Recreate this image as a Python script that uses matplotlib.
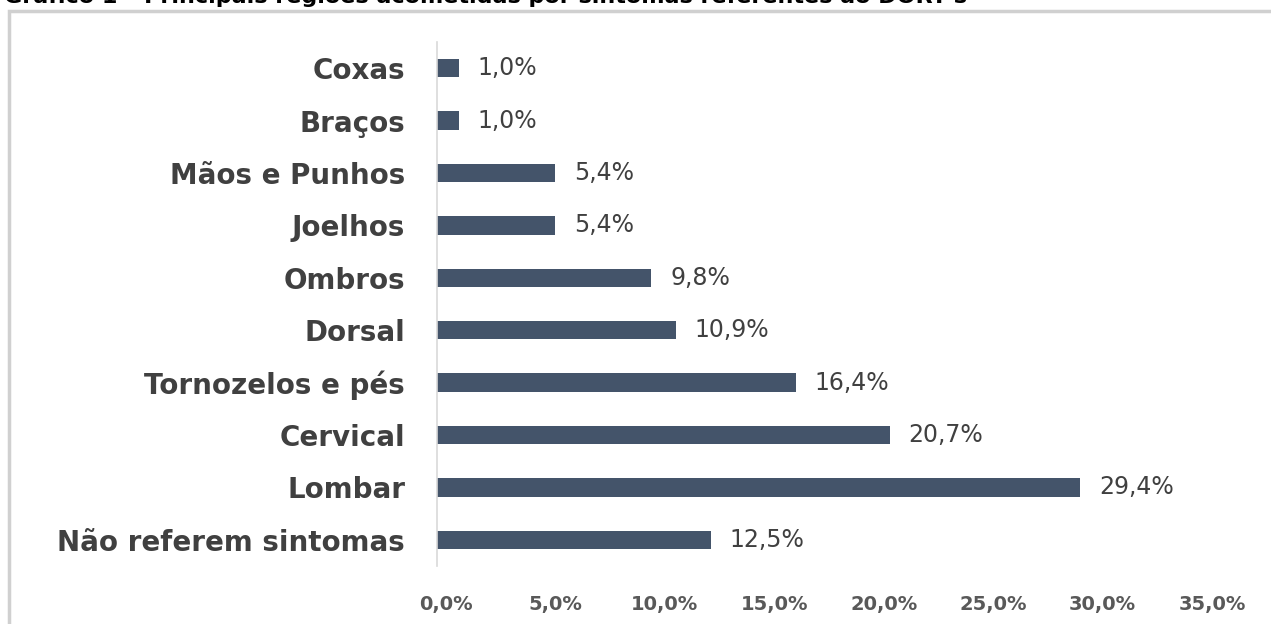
import matplotlib
matplotlib.use("Agg")
import matplotlib.pyplot as plt
from matplotlib.patches import Rectangle
from matplotlib.transforms import ScaledTranslation

categories = ["Não referem sintomas", "Lombar", "Cervical", "Tornozelos e pés", "Dorsal",
              "Ombros", "Joelhos", "Mãos e Punhos", "Braços", "Coxas"]
values = [12.5, 29.4, 20.7, 16.4, 10.9, 9.8, 5.4, 5.4, 1.0, 1.0]
xticks = [0, 5, 10, 15, 20, 25, 30, 35]
title = "Gráfico 1 – Principais regiões acometidas por sintomas referentes ao DORT's"

fig = plt.figure(figsize=(12.71, 6.24), dpi=100)
W, H = 1271, 624

# outer frame (chart area border)
fig.patches.append(Rectangle((9 / W, -0.05), 1.2, (H - 11) / H + 0.05, transform=fig.transFigure,
                             fill=False, edgecolor="#d0d0d0", linewidth=2.5))

# title, clipped at the top edge as in the reference
fig.text(4 / W, 1 + 4 / H, title, fontsize=16, fontweight="bold", family="DejaVu Sans",
         va="center", ha="left", color="black")

ax = fig.add_axes([437 / W, 1 - 566 / H, (1203 - 437) / W, (566 - 42) / H])
y = list(range(len(categories)))
ax.barh(y, values, height=0.35, color="#44546A")
ax.set_xlim(0, 35)
ax.set_ylim(-0.5, len(categories) - 0.5)
ax.set_yticks(y)
ax.set_yticklabels(categories, fontsize=20, fontweight="bold", family="DejaVu Sans", color="#404040")
ax.tick_params(axis="y", length=0, pad=23)
ax.set_xticks(xticks)
ax.set_xticklabels([f"{t:.1f}%".replace(".", ",") for t in xticks], fontsize=14, fontweight="bold",
                   family="DejaVu Sans", color="#595959")
ax.tick_params(axis="x", length=0, pad=21)
off = ScaledTranslation(9 / 100, 0, fig.dpi_scale_trans)
for lab in ax.get_xticklabels():
    lab.set_transform(lab.get_transform() + off)
for s in ["top", "right", "bottom"]:
    ax.spines[s].set_visible(False)
ax.spines["left"].set_color("#d9d9d9")
ax.spines["left"].set_linewidth(1.2)

for yi, v in zip(y, values):
    ax.text(v + 0.85, yi, f"{v:.1f}%".replace(".", ","), va="center", ha="left", fontsize=17,
            family="DejaVu Sans", color="#404040")

fig.savefig("out.png", dpi=100)
